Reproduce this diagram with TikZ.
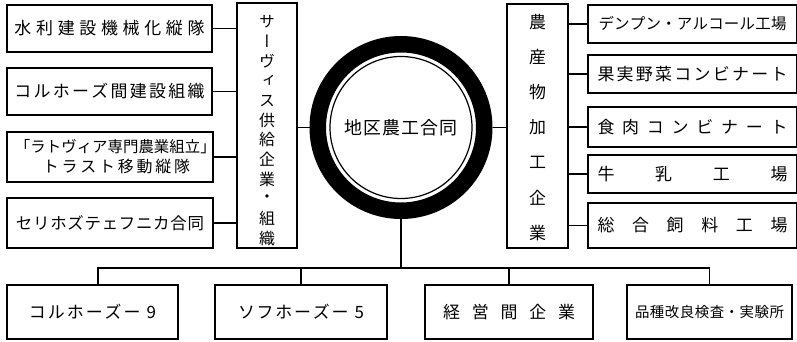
\documentclass[tikz,border=0pt]{standalone}
\usepackage{fontspec}
\newfontfamily\jp{Noto Sans CJK JP}
\newfontfamily\jpv[RawFeature=+vert]{Noto Sans CJK JP}
\makeatletter
\def\jfill#1{\jfillA#1\relax}
\def\jfillA#1#2{#1\ifx\relax#2\else\hfill\expandafter\jfillA\expandafter#2\fi}
\makeatother
\newcommand\jb[2]{\hbox to #1bp{\jfill{#2}}}
\tikzset{
  box/.style={draw, line width=1.4bp, rectangle, inner sep=0pt, font=\jp\fontsize{17}{20}\selectfont},
  conn/.style={line width=1.3bp},
  vch/.style={inner sep=0pt, font=\jpv\fontsize{16}{16}\selectfont},
}
\begin{document}
\begin{tikzpicture}[x=1bp, y=-1bp]
\useasboundingbox (0,0) rectangle (797,341);
% left boxes
\node[box, minimum width=205bp, minimum height=47bp] (L1) at (109.5,28.5) {\jb{190}{水利建設機械化縦隊}};
\node[box, minimum width=205bp, minimum height=47bp] (L2) at (109.5,91.5) {\jb{190}{コルホーズ間建設組織}};
\node[box, minimum width=206bp, minimum height=50bp, align=center] (L3) at (110,157)
  {\fontsize{15.5}{21}\selectfont\jb{190}{「ラトヴィア専門農業組立」}\\
   \fontsize{16}{21}\selectfont\hbox to 190bp{\hspace*{28bp}\jb{147}{トラスト移動縦隊}\hfill}};
\node[box, minimum width=206bp, minimum height=50bp, font=\jp\fontsize{16.5}{20}\selectfont] (L4) at (110,223) {\jb{188}{セリホズテェフニカ合同}};
% service box
\node[box, minimum width=60bp, minimum height=245bp] (S) at (267,125.5) {};
\foreach \c [count=\i] in {サ,ー,ヴ,ィ,ス,供,給,企,業,・,組,織}
  \node[vch] (s\i) at (267,{22+19.64*(\i-1)}) {\c};
% centre circle
\node[circle, draw, line width=16.5bp, minimum size=166.5bp, inner sep=0pt, font=\jp\fontsize{18}{20}\selectfont] (C) at (401,127.5) {\jb{113}{地区農工合同}};
\draw[line width=1.2bp] (C.center) circle[radius=71bp];
% processing box
\node[box, minimum width=61bp, minimum height=244bp] (P) at (537.5,126) {};
\foreach \c [count=\i] in {農,産,物,加,工,企,業}
  \node[vch, font=\jpv\fontsize{17}{17}\selectfont] (p\i) at (537.5,{22+35.17*(\i-1)}) {\c};
% right boxes
\node[box, minimum width=209bp, minimum height=38bp, font=\jp\fontsize{15.5}{18}\selectfont] (R1) at (692.5,24) {\jb{188}{デンプン・アルコール工場}};
\node[box, minimum width=209bp, minimum height=38bp] (R2) at (692.5,74) {\jb{190}{果実野菜コンビナート}};
\node[box, minimum width=209bp, minimum height=40bp] (R3) at (692.5,127) {\jb{190}{食肉コンビナート}};
\node[box, minimum width=209bp, minimum height=38bp] (R4) at (692.5,174) {\jb{190}{牛乳工場}};
\node[box, minimum width=209bp, minimum height=45bp] (R5) at (692.5,225.5) {\jb{190}{総合飼料工場}};
% bottom boxes
\node[box, minimum width=171bp, minimum height=54bp] (B1) at (92.5,312) {\hbox to 127bp{\jfill{コルホーズー}\hspace{6bp}9}};
\node[box, minimum width=172bp, minimum height=54bp] (B2) at (301,312) {\hbox to 126bp{\jfill{ソフホーズー}\hspace{6bp}5}};
\node[box, minimum width=168bp, minimum height=54bp] (B3) at (509,312) {\jb{132}{経営間企業}};
\node[box, minimum width=165bp, minimum height=54bp, font=\jp\fontsize{14.5}{18}\selectfont] (B4) at (709.5,312) {\jb{149}{品種改良検査・実験所}};
% connectors
\foreach \n in {L1,L2,L3,L4} \draw[conn] (\n.east) -- (\n.east -| S.west);
\foreach \n in {R1,R2,R3,R4,R5} \draw[conn] (\n.west) -- (\n.west -| P.east);
\draw[conn] (C.west) -- (C.west -| S.east);
\draw[conn] (C.east) -- (C.east -| P.west);
\coordinate (bus) at (401,268);
\coordinate (j1) at ([xshift=5.5bp]B1.north);
\draw[conn] (C.south) -- (bus);
\draw[conn] (j1) |- (bus -| B4.north) -- (B4.north);
\draw[conn] (B2.north) -- (B2.north |- bus);
\draw[conn] (B3.north) -- (B3.north |- bus);
\end{tikzpicture}
\end{document}
